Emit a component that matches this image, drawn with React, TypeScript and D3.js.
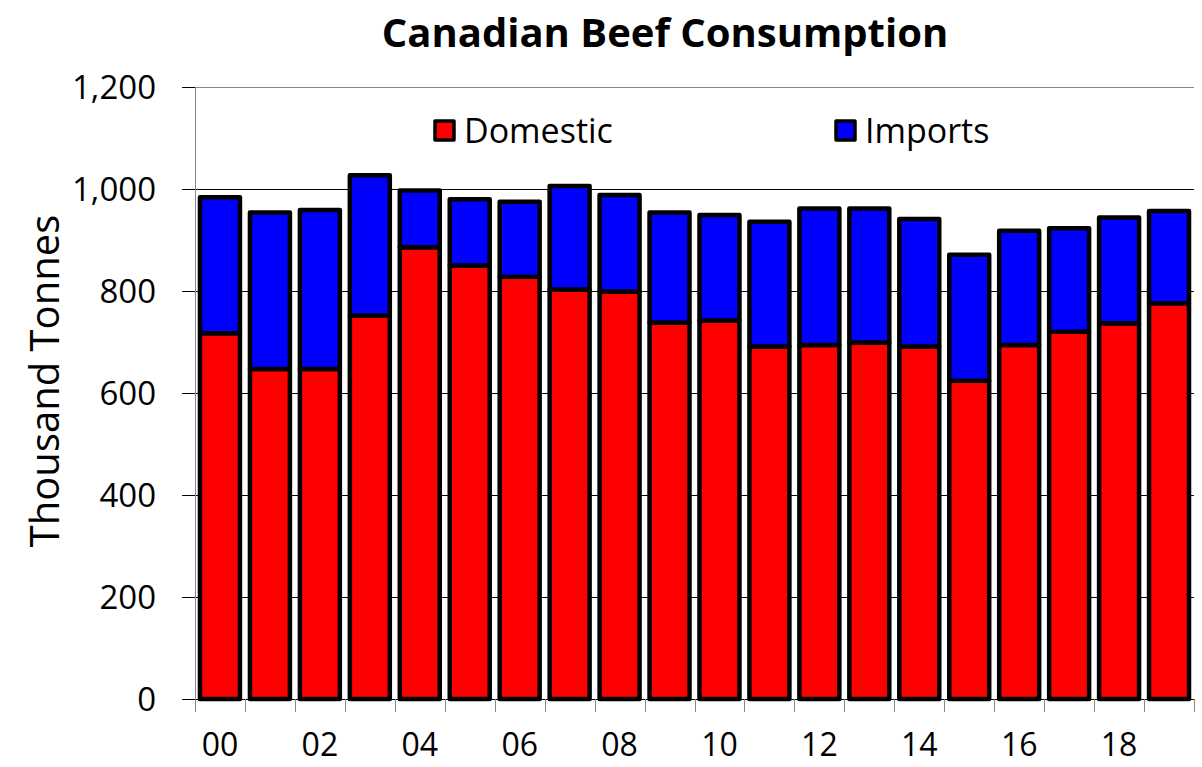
import React, { useEffect, useRef } from 'react';
import * as d3 from 'd3';

const years = ['00','01','02','03','04','05','06','07','08','09','10','11','12','13','14','15','16','17','18','19'];
const domestic = [717,647,647,752,886,850,828,803,799,738,742,691,694,699,691,624,694,720,737,776];
const imports = [267,307,312,275,111,130,147,203,189,216,207,245,268,263,250,247,224,203,207,181];
const yTicks = [0,200,400,600,800,1000,1200];
const seriesNames = ['Domestic','Imports'];
const seriesColors = ['#ff0000','#0000ff'];

const W = 1202, H = 767;
const left = 195, right = 1194, top = 87, bottom = 699;
const FONT = 'Open Sans, Lato, sans-serif';

const App = () => {
  const svgRef = useRef<SVGSVGElement>(null);

  useEffect(() => {
    const svg = d3.select(svgRef.current);
    svg.selectAll('*').remove();

    const x = d3.scaleBand().domain(years).range([left, right]).paddingInner(0.2).paddingOuter(0.1);
    const y = d3.scaleLinear().domain([0, 1200]).range([bottom, top]);
    const yc = (v: number) => Math.round(y(v)) + 0.5;

    const rows = years.map((yr, i) => ({ year: yr, Domestic: domestic[i], Imports: imports[i] }));
    const stacked = d3.stack<any>().keys(seriesNames)(rows);

    // gridlines
    svg.append('g').selectAll('line').data(yTicks.filter(t => t > 0)).enter().append('line')
      .attr('x1', left).attr('x2', right)
      .attr('y1', d => yc(d)).attr('y2', d => yc(d))
      .attr('stroke', d => d === 1200 ? '#888' : '#000').attr('stroke-width', 1);

    // y axis line, tick marks, labels
    const ya = svg.append('g');
    ya.append('line').attr('x1', left + 0.5).attr('x2', left + 0.5).attr('y1', top).attr('y2', bottom + 13)
      .attr('stroke', '#888').attr('stroke-width', 1);
    ya.selectAll('line.t').data(yTicks).enter().append('line').attr('class', 't')
      .attr('x1', left - 13).attr('x2', left).attr('y1', d => yc(d)).attr('y2', d => yc(d))
      .attr('stroke', '#000').attr('stroke-width', 1);
    ya.selectAll('text').data(yTicks).enter().append('text')
      .attr('x', 156).attr('y', d => y(d)).attr('dy', '0.36em')
      .attr('text-anchor', 'end').attr('font-family', FONT).attr('font-size', 33)
      .text(d => d3.format(',')(d));

    // bars
    svg.append('g').selectAll('g').data(stacked).enter().append('g')
      .attr('fill', (d, i) => seriesColors[i])
      .selectAll('rect').data(d => d).enter().append('rect')
      .attr('x', d => x(d.data.year)!)
      .attr('width', x.bandwidth())
      .attr('y', d => y(d[1]))
      .attr('height', d => y(d[0]) - y(d[1]))
      .attr('stroke', '#000').attr('stroke-width', 4.5).attr('stroke-linejoin', 'round');

    // x axis
    const step = x.step();
    svg.append('line').attr('x1', left).attr('x2', right).attr('y1', yc(0)).attr('y2', yc(0))
      .attr('stroke', '#000').attr('stroke-width', 1);
    svg.append('g').selectAll('line').data(d3.range(years.length + 1)).enter().append('line')
      .attr('x1', i => Math.round(left + i * step) + 0.5).attr('x2', i => Math.round(left + i * step) + 0.5)
      .attr('y1', bottom).attr('y2', bottom + 13)
      .attr('stroke', '#888').attr('stroke-width', 1);
    svg.append('g').selectAll('text').data(years.filter((d, i) => i % 2 === 0)).enter().append('text')
      .attr('x', d => x(d)! + x.bandwidth() / 2).attr('y', 756)
      .attr('text-anchor', 'middle').attr('font-family', FONT).attr('font-size', 32)
      .text(d => d);

    // axis title
    svg.append('text').attr('transform', 'translate(59,381) rotate(-90)')
      .attr('text-anchor', 'middle').attr('font-family', FONT).attr('font-size', 40)
      .text('Thousand Tonnes');

    // title
    svg.append('text').attr('x', 665).attr('y', 47).attr('text-anchor', 'middle')
      .attr('font-family', FONT).attr('font-size', 40).attr('font-weight', 'bold')
      .text('Canadian Beef Consumption');

    // legend
    const legX = [435, 836];
    const leg = svg.append('g').selectAll('g').data(seriesNames).enter().append('g')
      .attr('transform', (d, i) => `translate(${legX[i]},121)`);
    leg.append('rect').attr('width', 19).attr('height', 19)
      .attr('fill', (d, i) => seriesColors[i]).attr('stroke', '#000').attr('stroke-width', 3.5)
      .attr('stroke-linejoin', 'round');
    leg.append('text').attr('x', 29).attr('y', 10).attr('dy', '0.36em')
      .attr('font-family', FONT).attr('font-size', 34).text(d => d);
  }, []);

  return (
    <svg ref={svgRef} width={W} height={H} style={{ position: 'absolute', left: 0, top: 0, background: '#fff' }} />
  );
};

export default App;
